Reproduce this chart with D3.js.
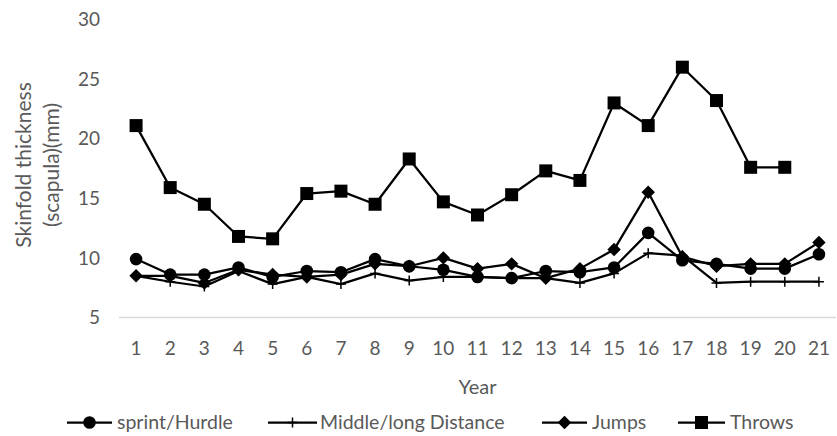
<!DOCTYPE html>
<html><head><meta charset="utf-8">
<script src="https://cdn.jsdelivr.net/npm/d3@7"></script>
<style>body{margin:0;background:#fff}svg{display:block}text{font-family:Lato,"Open Sans",sans-serif}</style>
</head><body><svg id="c" width="837" height="436"></svg>
<script>
const years = d3.range(1, 22);
const yTicks = [5, 10, 15, 20, 25, 30];
const sprintHurdle = [9.9, 8.6, 8.6, 9.2, 8.4, 8.9, 8.8, 9.9, 9.3, 9.0, 8.4, 8.3, 8.9, 8.8, 9.2, 12.1, 9.8, 9.5, 9.1, 9.1, 10.3];
const middleLong  = [8.5, 8.0, 7.6, 8.9, 7.8, 8.4, 7.8, 8.7, 8.1, 8.4, 8.4, 8.3, 8.3, 7.9, 8.7, 10.4, 10.2, 7.9, 8.0, 8.0, 8.0];
const jumps       = [8.5, 8.5, 7.9, 9.0, 8.6, 8.4, 8.6, 9.5, 9.3, 10.0, 9.1, 9.5, 8.3, 9.1, 10.7, 15.5, 10.1, 9.3, 9.5, 9.5, 11.3];
const throws      = [21.1, 15.9, 14.5, 11.8, 11.6, 15.4, 15.6, 14.5, 18.3, 14.7, 13.6, 15.3, 17.3, 16.5, 23.0, 21.1, 26.0, 23.2, 17.6, 17.6, null];
const seriesNames = ["sprint/Hurdle", "Middle/long Distance", "Jumps", "Throws"];

const svg = d3.select("#c");
const x = d3.scaleLinear().domain([0.5, 21.5]).range([119, 836]);
const y = d3.scaleLinear().domain([5, 30]).range([317.5, 19.5]);
const grey = "#595959";

// baseline gridline
svg.append("line").attr("x1", x(0.5)).attr("x2", x(21.5)).attr("y1", y(5)).attr("y2", y(5))
  .attr("stroke", "#d9d9d9").attr("stroke-width", 1.5);

// y tick labels
svg.append("g").selectAll("text").data(yTicks).join("text")
  .attr("x", 100).attr("y", d => y(d)).attr("dy", "0.35em").attr("text-anchor", "end")
  .attr("fill", grey).style("font-size", "19px").text(d => d);

// x tick labels
svg.append("g").selectAll("text").data(years).join("text")
  .attr("x", d => x(d)).attr("y", 348).attr("dy", "0.35em").attr("text-anchor", "middle")
  .attr("fill", grey).style("font-size", "19px").text(d => d);

svg.append("text").attr("x", x(11)).attr("y", 387).attr("dy", "0.35em").attr("text-anchor", "middle")
  .attr("fill", grey).style("font-size", "20px").text("Year");

const yl = svg.append("text").attr("transform", "translate(0,165) rotate(-90)")
  .attr("text-anchor", "middle").attr("fill", grey).style("font-size", "21px");
yl.append("tspan").attr("x", 0).attr("y", 24).attr("dy", "0.35em").text("Skinfold thickness");
yl.append("tspan").attr("x", 0).attr("y", 52).attr("dy", "0.35em").text("(scapula)(mm)");

const sym = {
  circle: d3.symbol().type(d3.symbolCircle).size(Math.PI * 6.3 * 6.3),
  plus: null,
  diamond: d3.symbol().type(d3.symbolSquare).size(9.5 * 9.5),
  square: d3.symbol().type(d3.symbolSquare).size(13 * 13)
};
function drawMarker(g, kind, cx, cy) {
  if (kind === "plus") {
    g.append("path").attr("d", `M${cx - 5},${cy}H${cx + 5}M${cx},${cy - 5}V${cy + 5}`)
      .attr("stroke", "#000").attr("stroke-width", 1.5).attr("fill", "none");
  } else if (kind === "diamond") {
    g.append("path").attr("d", sym.diamond()).attr("transform", `translate(${cx},${cy}) rotate(45)`).attr("fill", "#000");
  } else {
    g.append("path").attr("d", sym[kind]()).attr("transform", `translate(${cx},${cy})`).attr("fill", "#000");
  }
}

const series = [
  {name: seriesNames[0], values: sprintHurdle, kind: "circle"},
  {name: seriesNames[1], values: middleLong, kind: "plus"},
  {name: seriesNames[2], values: jumps, kind: "diamond"},
  {name: seriesNames[3], values: throws, kind: "square"}
];
const line = d3.line().defined(d => d[1] != null).x(d => x(d[0])).y(d => y(d[1]));
series.forEach(s => {
  const g = svg.append("g");
  const pts = years.map((yr, i) => [yr, s.values[i]]);
  g.append("path").attr("d", line(pts)).attr("fill", "none").attr("stroke", "#000")
    .attr("stroke-width", 2.25).attr("stroke-linejoin", "round");
  pts.filter(p => p[1] != null).forEach(p => drawMarker(g, s.kind, x(p[0]), y(p[1])));
});

// legend
const legendPos = [{x0: 67, x1: 112, tx: 117}, {x0: 268, x1: 317, tx: 320}, {x0: 542, x1: 587, tx: 592}, {x0: 678, x1: 725, tx: 730}];
const ly = 422.5;
series.forEach((s, i) => {
  const p = legendPos[i];
  const g = svg.append("g");
  g.append("line").attr("x1", p.x0).attr("x2", p.x1).attr("y1", ly).attr("y2", ly)
    .attr("stroke", "#000").attr("stroke-width", 2.25);
  drawMarker(g, s.kind, (p.x0 + p.x1) / 2, ly);
  g.append("text").attr("x", p.tx).attr("y", ly).attr("dy", "0.35em").attr("fill", grey)
    .style("font-size", "19.5px").text(s.name);
});
</script></body></html>
